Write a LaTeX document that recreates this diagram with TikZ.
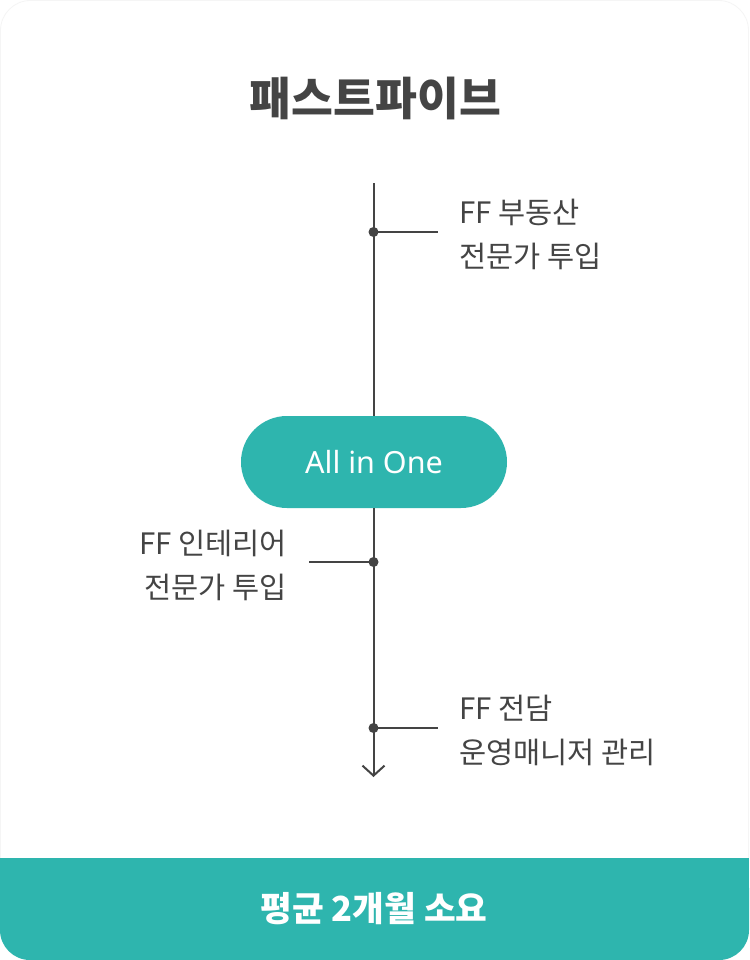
\documentclass[tikz,border=0pt]{standalone}
\usepackage{fontspec}
\setmainfont{Noto Sans CJK KR}
\newfontfamily\latinfont{Noto Sans}
\usetikzlibrary{arrows.meta}
\definecolor{teal1}{HTML}{2EB5AE}
\definecolor{ink}{HTML}{444444}
\definecolor{edge}{HTML}{F5F5F5}
\tikzset{
  conn/.style={draw=ink, line width=2pt},
  dotnode/.style={circle, fill=ink, inner sep=0pt, minimum size=10pt},
  lab/.style={text=ink, inner sep=0pt, font=\fontsize{29.5}{44}\selectfont},
  pill/.style={fill=teal1, rounded corners=46pt, minimum width=266pt, minimum height=92pt, inner sep=0pt, text=white, font=\latinfont\fontsize{30.5}{34}\selectfont},
}
\begin{document}
\begin{tikzpicture}[x=1pt,y=-1pt]
\useasboundingbox (0,0) rectangle (749,960);
\fill[white] (0,0) rectangle (749,960);
\draw[edge, line width=0.8pt, rounded corners=30pt] (0.5,0.5) rectangle (748.5,959.5);
% bottom bar
\fill[teal1, rounded corners=30pt] (0,858) rectangle (749,960);
\fill[teal1] (0,858) rectangle (749,900);
\node[text=white, font=\fontsize{34.5}{40}\selectfont\bfseries] (bar) at (374,909) {평균 2개월 소요};
% title
\node[text=ink, font=\fontsize{45.5}{52}\selectfont\bfseries] (title) at (375.5,98.5) {패스트파이브};
% timeline
\coordinate (top) at (373.5,183);
\node[pill] (pill) at (374,462) {All in One};
\node[dotnode] (d1) at (373.5,232) {};
\node[dotnode] (d2) at (373.5,562) {};
\node[dotnode] (d3) at (373.5,728) {};
\coordinate (end) at (373.5,777);
\draw[conn] (top) -- (pill.north -| top);
\draw[conn, -{Straight Barb[length=10pt,width=22pt]}] (pill.south -| top) -- (end);
\coordinate (e1) at (438,232);
\coordinate (e2) at (309,562);
\coordinate (e3) at (438,728);
\draw[conn] (d1.center) -- (e1);
\draw[conn] (d2.center) -- (e2);
\draw[conn] (d3.center) -- (e3);
\node[lab, anchor=west, align=left] (l1) at (459,234) {FF 부동산\\전문가 투입};
\node[lab, anchor=east, align=right] (l2) at (287,565) {FF 인테리어\\전문가 투입};
\node[lab, anchor=west, align=left] (l3) at (459,730) {FF 전담\\운영매니저 관리};
\end{tikzpicture}
\end{document}
